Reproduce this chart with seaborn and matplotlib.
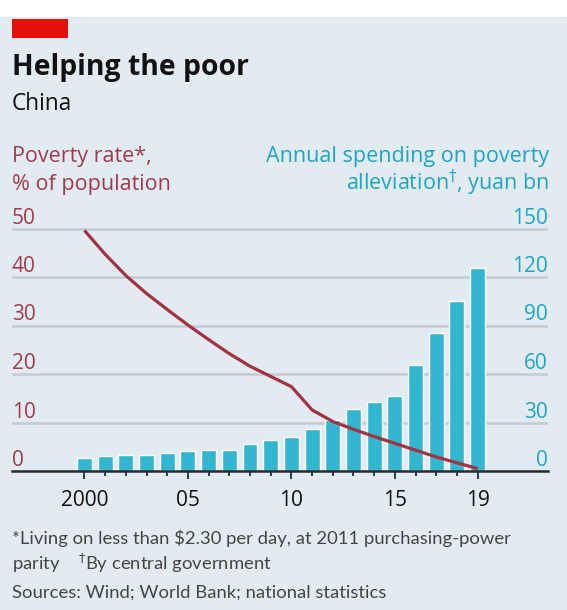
import matplotlib
matplotlib.use("Agg")
import matplotlib.pyplot as plt
from matplotlib.patches import Rectangle
import seaborn as sns
import pandas as pd

# Data
years = list(range(2000, 2020))
poverty_rate = [49.6, 44.7, 40.3, 36.6, 33.3, 30.1, 27.1, 24.2, 21.6, 19.5,
                17.4, 12.6, 10.2, 8.6, 7.1, 5.7, 4.3, 2.9, 1.7, 0.5]
spending = [8.3, 9.1, 10.2, 10.2, 11.2, 12.4, 13.1, 13.1, 16.4, 19.1,
            21.0, 26.1, 31.7, 38.4, 42.5, 46.5, 65.4, 85.5, 105.4, 125.7]
rate_ticks = [0, 10, 20, 30, 40, 50]
spend_ticks = [0, 30, 60, 90, 120, 150]
year_ticks = [2000, 2005, 2010, 2015, 2019]
year_labels = ["2000", "05", "10", "15", "19"]

df = pd.DataFrame({"year": years, "rate": poverty_rate, "spending": spending})

# Style
sns.set_theme(style="white")
FONT = ["Open Sans", "DejaVu Sans"]
NOTE_FONT = ["Lato", "DejaVu Sans"]
plt.rcParams["font.family"] = FONT
plt.rcParams["mathtext.fontset"] = "dejavusans"

BG = "#e3ebf2"
GRID = "#c3ccd4"
MAROON = "#a23a4c"
LINE = "#a3313f"
CYAN = "#1ea5c6"
BAR = "#33b6d0"
DARK = "#2b2b2b"
NOTE = "#444444"

W, H = 567, 610
fig = plt.figure(figsize=(W / 100, H / 100), dpi=100)
fig.patch.set_facecolor(BG)


def fx(px):
    return px / W


def fy(py):
    return 1 - py / H


# white strip and red tag at the top
fig.add_artist(Rectangle((0, fy(17)), 1, 17 / H, transform=fig.transFigure,
                         facecolor="white", edgecolor="none", zorder=0))
fig.add_artist(Rectangle((fx(12), fy(38)), fx(68) - fx(12), 19 / H,
                         transform=fig.transFigure, facecolor="#e3120b",
                         edgecolor="none"))

# Axes: bars (spending, right scale) below, line (rate, left scale) on top
top_units = 151
px_per_yuan = (471 - 228.5) / 150
ax_bar = fig.add_axes([fx(12), fy(471), fx(548) - fx(12),
                       (top_units * px_per_yuan) / H])
ax_bar.set_facecolor(BG)
ax_line = ax_bar.twinx()

sns.barplot(data=df, x="year", y="spending", native_scale=True, ax=ax_bar,
            color=BAR, saturation=1, width=0.72, errorbar=None, zorder=2)
sns.lineplot(data=df, x="year", y="rate", ax=ax_line, color=LINE,
             linewidth=2.3, solid_capstyle="butt", solid_joinstyle="round",
             zorder=3)
for ln in ax_line.lines:
    ln.set_clip_on(False)

ax_bar.set_ylim(0, top_units)
ax_line.set_ylim(0, top_units / 3)
ax_bar.set_xlim(1996.5, 2022.4)

# y axes: labels sit just above gridlines, inside the plot
ax_bar.yaxis.tick_right()
ax_line.yaxis.tick_left()
ax_bar.set_yticks(spend_ticks)
ax_line.set_yticks(rate_ticks)
ax_bar.set_yticklabels([str(t) for t in spend_ticks])
ax_line.set_yticklabels([str(t) for t in rate_ticks])
ax_bar.tick_params(axis="y", length=0, pad=0, labelsize=15, labelcolor=CYAN)
ax_line.tick_params(axis="y", length=0, pad=0, labelsize=15, labelcolor=MAROON)
for t in ax_bar.get_yticklabels():
    t.set_ha("right")
    t.set_va("bottom")
for t in ax_line.get_yticklabels():
    t.set_ha("left")
    t.set_va("bottom")

ax_bar.grid(axis="y", color=GRID, linewidth=1.8)
ax_bar.grid(axis="x", visible=False)
ax_line.grid(False)
ax_bar.set_axisbelow(True)

# x axis
ax_bar.set_xticks(year_ticks)
ax_bar.set_xticklabels(year_labels)
ax_bar.set_xticks(years, minor=True)
ax_bar.tick_params(axis="x", which="major", direction="out", length=6,
                   width=1.3, color=DARK, pad=7.5, labelsize=15,
                   labelcolor="#111111", bottom=True)
ax_bar.tick_params(axis="x", which="minor", direction="out", length=3.8,
                   width=1.3, color=DARK, bottom=True)
ax_bar.set_xlabel("")
ax_bar.set_ylabel("")
ax_line.set_ylabel("")

for a in (ax_bar, ax_line):
    for s in ("top", "left", "right", "bottom"):
        a.spines[s].set_visible(False)
ax_bar.spines["bottom"].set_visible(True)
ax_bar.spines["bottom"].set_color(DARK)
ax_bar.spines["bottom"].set_linewidth(1.8)
ax_bar.spines["bottom"].set_zorder(2.5)

# Titles
fig.text(fx(12), fy(75), "Helping the poor", fontsize=20.4, fontweight="bold",
         color="#111111", va="baseline", ha="left")
fig.text(fx(12), fy(110), "China", fontsize=16.3, color="#111111",
         va="baseline", ha="left")

# Axis captions
fig.text(fx(12), fy(162), "Poverty rate*,", fontsize=15.5, color=MAROON,
         va="baseline", ha="left")
fig.text(fx(12), fy(190), "% of population", fontsize=15.5, color=MAROON,
         va="baseline", ha="left")
fig.text(fx(549), fy(162), "Annual spending on poverty", fontsize=15.5,
         color=CYAN, va="baseline", ha="right")
fig.text(fx(549), fy(190), r"alleviation$^{\dagger}$, yuan bn", fontsize=15.5,
         color=CYAN, va="baseline", ha="right")

# Footnotes
fig.text(fx(12), fy(544),
         "*Living on less than $2.30 per day, at 2011 purchasing-power",
         fontsize=13.3, color=NOTE, va="baseline", ha="left",
         family=NOTE_FONT)
fig.text(fx(12), fy(570), r"parity    $^{\dagger}$By central government",
         fontsize=13.3, color=NOTE, va="baseline", ha="left",
         family=NOTE_FONT)
fig.text(fx(12), fy(598), "Sources: Wind; World Bank; national statistics",
         fontsize=13.3, color=NOTE, va="baseline", ha="left",
         family=NOTE_FONT)

fig.savefig("out.png", dpi=100, facecolor=fig.get_facecolor())
